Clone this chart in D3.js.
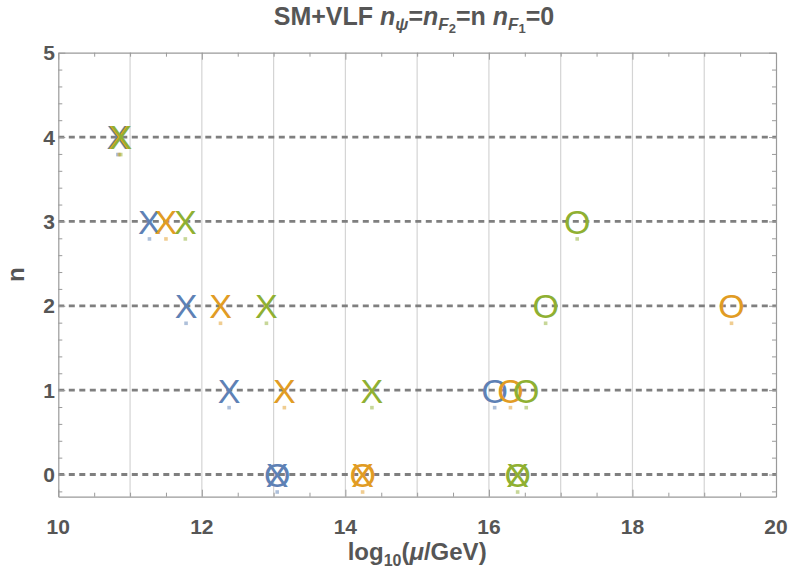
<!DOCTYPE html>
<html>
<head>
<meta charset="utf-8">
<script src="https://cdn.jsdelivr.net/npm/d3@7"></script>
<style>
  html, body { margin: 0; padding: 0; background: #fff; }
  svg { display: block; }
</style>
</head>
<body>
<svg id="chart" width="789" height="572"></svg>
<script>
// ---------- data ----------
const xTickValues = [10, 12, 14, 16, 18, 20];
const yTickValues = [0, 1, 2, 3, 4, 5];
const dashedLevels = [0, 1, 2, 3, 4];

const crossN = [4, 3, 2, 1, 0];
const blueCross = [10.83, 11.27, 11.78, 12.38, 13.05];
const orangeCross = [10.85, 11.50, 12.26, 13.15, 14.24];
const greenCross = [10.87, 11.77, 12.90, 14.37, 16.40];

const blueCircleN = [1, 0];
const blueCircle = [16.08, 13.05];
const orangeCircleN = [2, 1, 0];
const orangeCircle = [19.38, 16.30, 14.24];
const greenCircleN = [3, 2, 1, 0];
const greenCircle = [17.23, 16.79, 16.52, 16.40];

const seriesNames = ["blue", "orange", "green"];
const seriesColors = ["#5E81B5", "#E19C24", "#8FB032"];

// ---------- layout ----------
const svg = d3.select("#chart");
const pL = 58.3, pR = 776, pT = 52.7, pB = 496.7;
const x = d3.scaleLinear().domain([10, 20]).range([pL, pR]);
const y = d3.scaleLinear().domain([-0.263, 5]).range([pB, pT]);
const textColor = "#565656";
const frameColor = "#9a9a9a";

// vertical grid lines
svg.append("g").selectAll("line")
  .data(d3.range(11, 20))
  .join("line")
  .attr("x1", d => x(d)).attr("x2", d => x(d))
  .attr("y1", pT).attr("y2", pB)
  .attr("stroke", "#d4d4d4").attr("stroke-width", 1.2);

// horizontal dashed lines
svg.append("g").selectAll("line")
  .data(dashedLevels)
  .join("line")
  .attr("x1", pL).attr("x2", pR)
  .attr("y1", d => y(d)).attr("y2", d => y(d))
  .attr("stroke", "#7f7f7f").attr("stroke-width", 2.8)
  .attr("stroke-dasharray", "6,4.5");

// frame axes (ticks inward)
const xMinor = d3.range(10, 20.01, 0.5);
const yMinor = d3.range(0, 5.01, 0.2).concat([-0.2]);
function isMajor(v) { return Math.abs(v - Math.round(v)) < 1e-6; }

const axB = d3.axisBottom(x).tickValues(xMinor).tickSizeInner(0).tickSizeOuter(0).tickFormat("");
const axT = d3.axisTop(x).tickValues(xMinor).tickSizeInner(0).tickSizeOuter(0).tickFormat("");
const axL = d3.axisLeft(y).tickValues(yMinor).tickSizeInner(0).tickSizeOuter(0).tickFormat("");
const axR = d3.axisRight(y).tickValues(yMinor).tickSizeInner(0).tickSizeOuter(0).tickFormat("");

function styleAxis(g, orient) {
  g.select(".domain").attr("stroke", frameColor).attr("stroke-width", 1.2);
  g.selectAll(".tick line").attr("stroke", frameColor).attr("stroke-width", 1)
    .each(function(d) {
      const len = (orient === "b" || orient === "t")
        ? ((isMajor(d) && Math.round(d) % 2 === 0) ? 7 : 4)
        : (isMajor(d) ? 7 : 4);
      const sel = d3.select(this);
      if (orient === "b") sel.attr("y2", -len);
      if (orient === "t") sel.attr("y2", len);
      if (orient === "l") sel.attr("x2", len);
      if (orient === "r") sel.attr("x2", -len);
    });
}
svg.append("g").attr("transform", `translate(0,${pB})`).call(axB).call(g => styleAxis(g, "b"));
svg.append("g").attr("transform", `translate(0,${pT})`).call(axT).call(g => styleAxis(g, "t"));
svg.append("g").attr("transform", `translate(${pL},0)`).call(axL).call(g => styleAxis(g, "l"));
svg.append("g").attr("transform", `translate(${pR},0)`).call(axR).call(g => styleAxis(g, "r"));

// tick labels
const labelFont = "'Liberation Sans', Arial, sans-serif";
svg.append("g").selectAll("text")
  .data(xTickValues).join("text")
  .attr("x", d => x(d)).attr("y", 534)
  .attr("text-anchor", "middle")
  .attr("font-family", labelFont).attr("font-weight", "bold").attr("font-size", 21)
  .attr("fill", textColor)
  .text(d => d);
svg.append("g").selectAll("text")
  .data(yTickValues).join("text")
  .attr("x", 55).attr("y", d => y(d) + 7.5)
  .attr("text-anchor", "end")
  .attr("font-family", labelFont).attr("font-weight", "bold").attr("font-size", 21)
  .attr("fill", textColor)
  .text(d => d);

// axis labels
const xl = svg.append("text")
  .attr("x", (pL + pR) / 2).attr("y", 560)
  .attr("text-anchor", "middle")
  .attr("font-family", labelFont).attr("font-weight", "bold").attr("font-size", 24)
  .attr("fill", textColor);
xl.append("tspan").text("log");
xl.append("tspan").attr("font-size", 16).attr("dy", 6).text("10");
xl.append("tspan").attr("dy", -6).text("(");
xl.append("tspan").attr("font-style", "italic").text("μ");
xl.append("tspan").text("/GeV)");

svg.append("text")
  .attr("transform", `translate(24,${(pT + pB) / 2}) rotate(-90)`)
  .attr("text-anchor", "middle")
  .attr("font-family", labelFont).attr("font-weight", "bold").attr("font-size", 24)
  .attr("fill", textColor)
  .text("n");

// title
const t = svg.append("text")
  .attr("x", 414).attr("y", 25)
  .attr("text-anchor", "middle")
  .attr("font-family", labelFont).attr("font-weight", "bold").attr("font-size", 25)
  .attr("fill", textColor);
t.append("tspan").text("SM+VLF ");
t.append("tspan").attr("font-style", "italic").text("n");
t.append("tspan").attr("font-style", "italic").attr("font-size", 17).attr("dy", 5).text("ψ");
t.append("tspan").attr("dy", -5).text("=");
t.append("tspan").attr("font-style", "italic").text("n");
t.append("tspan").attr("font-style", "italic").attr("font-size", 17).attr("dy", 5).text("F");
t.append("tspan").attr("font-size", 13).attr("dy", 3).text("2");
t.append("tspan").attr("dy", -8).text("=n ");
t.append("tspan").attr("font-style", "italic").text("n");
t.append("tspan").attr("font-style", "italic").attr("font-size", 17).attr("dy", 5).text("F");
t.append("tspan").attr("font-size", 13).attr("dy", 3).text("1");
t.append("tspan").attr("dy", -8).text("=0");

// ---------- markers ----------
const crossSets = [blueCross, orangeCross, greenCross];
const circleSets = [blueCircle, orangeCircle, greenCircle];
const circleNs = [blueCircleN, orangeCircleN, greenCircleN];

// small squares under each marker position
const squares = [];
seriesNames.forEach((s, i) => {
  const seen = new Set();
  crossSets[i].forEach((v, j) => { seen.add(v + "," + crossN[j]); squares.push({ v, n: crossN[j], c: seriesColors[i] }); });
  circleSets[i].forEach((v, j) => {
    const key = v + "," + circleNs[i][j];
    if (!seen.has(key)) squares.push({ v, n: circleNs[i][j], c: seriesColors[i] });
  });
});
svg.append("g").selectAll("rect")
  .data(squares).join("rect")
  .attr("x", d => x(d.v) - 1.8)
  .attr("y", d => y(d.n) + 17.5 - 1.8)
  .attr("width", 3.6).attr("height", 3.6)
  .attr("fill", d => d.c).attr("fill-opacity", 0.5);

const glyphSize = 34;
seriesNames.forEach((s, i) => {
  const g = svg.append("g").attr("class", "series-" + s)
    .attr("font-family", labelFont).attr("font-size", glyphSize)
    .attr("fill", seriesColors[i]).attr("text-anchor", "middle");
  g.selectAll("text.cross")
    .data(crossSets[i].map((v, j) => ({ v, n: crossN[j] })))
    .join("text").attr("class", "cross")
    .attr("x", d => x(d.v)).attr("y", d => y(d.n) + glyphSize * 0.364)
    .text("X");
  g.selectAll("text.circ")
    .data(circleSets[i].map((v, j) => ({ v, n: circleNs[i][j] })))
    .join("text").attr("class", "circ")
    .attr("x", d => x(d.v)).attr("y", d => y(d.n) + glyphSize * 0.364)
    .text("O");
});
</script>
</body>
</html>
